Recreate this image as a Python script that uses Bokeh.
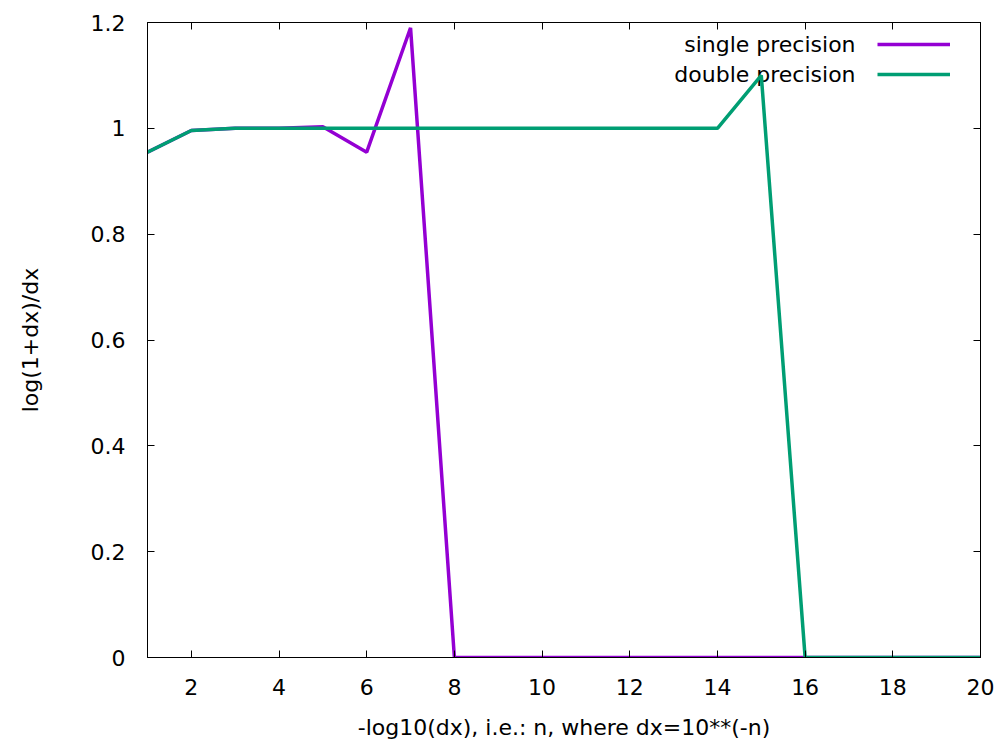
from bokeh.plotting import figure
from bokeh.models import Range1d, LinearAxis, FixedTicker, Legend, LegendItem, Label
from bokeh.embed import file_html
from bokeh.resources import INLINE

n = list(range(1, 21))
single_precision = [0.955, 0.996, 1.0, 1.0, 1.003, 0.955, 1.19,
                    0, 0, 0, 0, 0, 0, 0, 0, 0, 0, 0, 0, 0]
double_precision = [0.955, 0.996, 1.0, 1.0, 1.0, 1.0, 1.0, 1.0, 1.0, 1.0,
                    1.0, 1.0, 1.0, 1.0, 1.10, 0, 0, 0, 0, 0]
x_ticks = [2, 4, 6, 8, 10, 12, 14, 16, 18, 20]
y_ticks = [0, 0.2, 0.4, 0.6, 0.8, 1.0, 1.2]
series_names = ["single precision", "double precision"]
colors = ["#9400d3", "#009e73"]

FONT = "DejaVu Sans"
FS = "22px"

p = figure(frame_width=833, frame_height=635, output_backend="svg",
           toolbar_location=None, x_range=Range1d(1, 20), y_range=Range1d(0, 1.2),
           min_border_left=147, min_border_right=20, min_border_top=22,
           min_border_bottom=80)
p.grid.visible = False
p.outline_line_color = "black"
p.outline_line_width = 1
p.background_fill_color = "white"
p.border_fill_color = "white"

r1 = p.line(n, single_precision, line_color=colors[0], line_width=3.5)
r2 = p.line(n, double_precision, line_color=colors[1], line_width=3.5)

def style_axis(ax, ticks, show_labels):
    ax.ticker = FixedTicker(ticks=ticks)
    ax.major_tick_in = 7
    ax.major_tick_out = 0
    ax.minor_tick_line_color = None
    ax.axis_line_color = "black"
    ax.major_tick_line_color = "black"
    ax.major_label_text_font = FONT
    ax.major_label_text_color = "black"
    ax.major_label_text_font_size = FS
    ax.axis_label_text_font = FONT
    ax.axis_label_text_font_style = "normal"
    ax.axis_label_text_color = "black"
    ax.axis_label_text_font_size = FS
    if not show_labels:
        ax.major_label_overrides = {t: "" for t in ticks}
        ax.major_label_standoff = 0

style_axis(p.xaxis[0], x_ticks, True)
style_axis(p.yaxis[0], y_ticks, True)
p.xaxis[0].axis_label = "-log10(dx), i.e.: n, where dx=10**(-n)"
p.yaxis[0].axis_label = "log(1+dx)/dx"
p.xaxis[0].major_label_standoff = 21
p.xaxis[0].axis_label_standoff = 17
p.yaxis[0].major_label_standoff = 22
p.yaxis[0].axis_label_standoff = 45
p.yaxis[0].formatter.use_scientific = False

top_ax = LinearAxis()
right_ax = LinearAxis()
style_axis(top_ax, x_ticks, False)
style_axis(right_ax, y_ticks, False)
p.add_layout(top_ax, "above")
p.add_layout(right_ax, "right")

legend = Legend(items=[LegendItem(label="", renderers=[r1]),
                       LegendItem(label="", renderers=[r2])],
                location=(730, 568), orientation="vertical",
                glyph_width=73, glyph_height=30, label_height=30, label_width=5,
                spacing=0, padding=0, margin=0, label_standoff=0,
                border_line_color=None, background_fill_alpha=0)
p.add_layout(legend)

label_y = [1.158, 1.102]
for name, yy in zip(series_names, label_y):
    p.add_layout(Label(x=17.15, y=yy, text=name, text_align="right",
                       text_baseline="middle", text_font=FONT,
                       text_font_size=FS, text_color="black",
                       level="underlay"))

open("out.html", "w").write(file_html(p, INLINE))
